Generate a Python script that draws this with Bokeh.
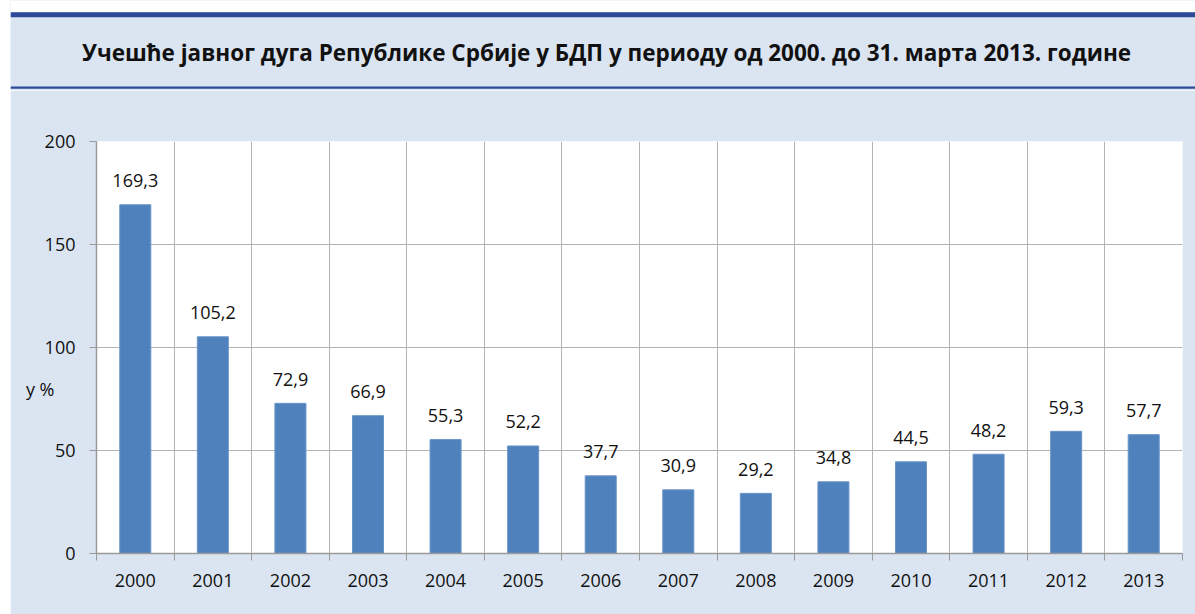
from bokeh.plotting import figure
from bokeh.layouts import column
from bokeh.models import Range1d, FixedTicker, LinearAxis
from bokeh.core.properties import value
from bokeh.embed import file_html
from bokeh.resources import INLINE

title_text = "Учешће јавног дуга Републике Србије у БДП у периоду од 2000.  до 31. марта 2013. године"
y_label_text = "у %"
y_label_at = 80
years = ["2000", "2001", "2002", "2003", "2004", "2005", "2006",
         "2007", "2008", "2009", "2010", "2011", "2012", "2013"]
shares = [169.3, 105.2, 72.9, 66.9, 55.3, 52.2, 37.7,
          30.9, 29.2, 34.8, 44.5, 48.2, 59.3, 57.7]
y_ticks = [0, 50, 100, 150, 200]

BG = "#dbe5f1"
DARK = "#2c4a99"
BAR = "#4f81bd"
GRID = "#b3b3b3"
AXIS = "#9a9a9a"
FONT = "Open Sans"
TXT = "#111111"

W = 1185

# ---------- title band ----------
t = figure(width=W, height=90, x_range=Range1d(0, W), y_range=Range1d(90, 0),
           output_backend="svg", toolbar_location=None,
           min_border=0, min_border_left=0, min_border_right=0,
           min_border_top=0, min_border_bottom=0,
           background_fill_color=BG, border_fill_color=BG,
           outline_line_color=None)
t.frame_align = False
t.axis.visible = False
t.grid.visible = False
t.quad(left=[0], right=[W], top=[0], bottom=[11.7], color="white", line_color=None)
t.quad(left=[0], right=[W], top=[11.7], bottom=[16.7], color=DARK, line_color=None)
t.quad(left=[0], right=[W], top=[86], bottom=[88.3], color=DARK, line_color=None)
t.text(x=[599], y=[52], text=[title_text], text_align="center", text_baseline="middle",
       text_font=value(FONT), text_font_style="bold", text_font_size="22.5px",
       text_color=TXT)

# ---------- chart ----------
idx = list(range(len(years)))
bounds = [i - 0.5 for i in range(len(years) + 1)]

p = figure(width=W, height=524, x_range=Range1d(-0.5, len(years) - 0.5),
           y_range=Range1d(0, 200),
           output_backend="svg", toolbar_location=None,
           min_border_left=86, min_border_right=13, min_border_top=51,
           min_border_bottom=61,
           background_fill_color="white", border_fill_color=BG,
           outline_line_color=None)
p.frame_align = False

p.vbar(x=idx, top=shares, width=0.4, fill_color=BAR, line_color="#6a95c9", line_width=1)
p.text(x=idx, y=shares, text=[f"{v:.1f}".replace(".", ",") for v in shares],
       text_align="center", text_baseline="alphabetic", y_offset=-24,
       text_font=value(FONT), text_font_size="18px", text_color=TXT)

p.xaxis.ticker = FixedTicker(ticks=idx, minor_ticks=bounds)
p.xaxis.major_label_overrides = {i: y for i, y in zip(idx, years)}
p.xaxis.major_tick_line_color = None
p.xaxis.major_tick_out = 6
p.xaxis.major_tick_in = 0
p.xaxis.minor_tick_out = 7
p.xaxis.minor_tick_in = 0
p.xaxis.minor_tick_line_color = AXIS
p.xaxis.major_label_standoff = 13

p.yaxis.ticker = FixedTicker(ticks=y_ticks, minor_ticks=[])
p.yaxis.major_tick_out = 7
p.yaxis.major_tick_in = 0
p.yaxis.major_tick_line_color = AXIS
p.yaxis.major_label_standoff = 14

for ax in (p.xaxis, p.yaxis):
    ax.axis_line_color = AXIS
    ax.axis_line_width = 1.5
    ax.major_label_text_font = FONT
    ax.major_label_text_font_size = "18px"
    ax.major_label_text_color = TXT

p.xgrid.ticker = FixedTicker(ticks=bounds)
p.ygrid.ticker = FixedTicker(ticks=y_ticks)
p.grid.grid_line_color = GRID

# horizontal unit label on the left, placed by an extra label-only axis
unit_axis = LinearAxis(ticker=FixedTicker(ticks=[y_label_at], minor_ticks=[]),
                       major_label_overrides={y_label_at: y_label_text},
                       axis_line_color=None, major_tick_line_color=None,
                       minor_tick_line_color=None, major_tick_out=0, major_tick_in=0,
                       major_label_standoff=-13,
                       major_label_text_font=FONT, major_label_text_font_size="18px",
                       major_label_text_color=TXT)
p.add_layout(unit_axis, "left")

layout = column(t, p, spacing=0, margin=(0, 0, 0, 10))
open("out.html", "w").write(file_html(layout, INLINE))
